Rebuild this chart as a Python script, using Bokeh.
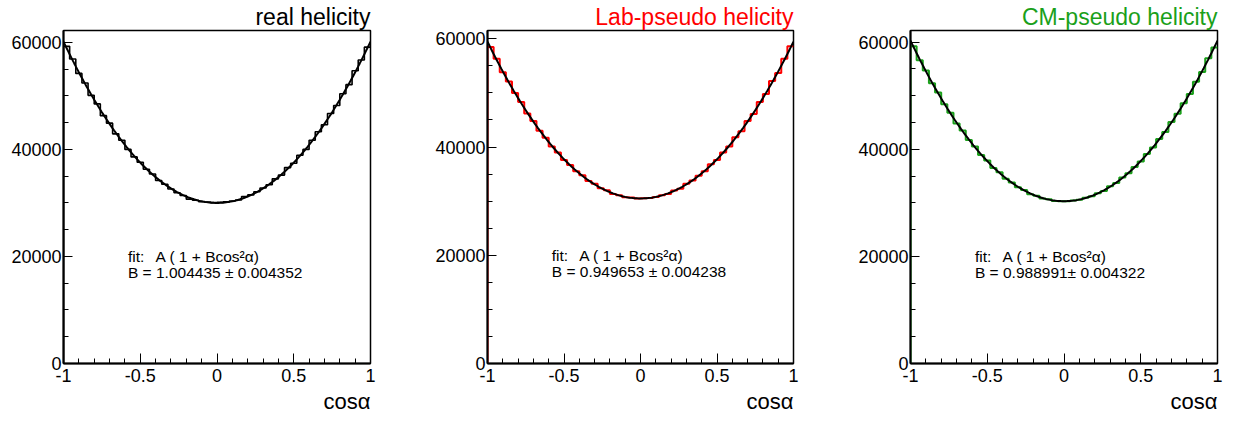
import numpy as np
from bokeh.plotting import figure
from bokeh.models import FixedTicker, Label, Range1d, Title
from bokeh.layouts import row
from bokeh.embed import file_html
from bokeh.resources import INLINE

# ---------------- data ----------------
titles = ["real helicity", "Lab-pseudo helicity", "CM-pseudo helicity"]
colors = ["#000000", "#ff0000", "#1aa01a"]
x_low, x_high = -1.0, 1.0

counts_real = [59250, 56900, 54200, 52400, 50100, 48500, 46300, 44900, 42900, 41700,
               40000, 38600, 37600, 36300, 35400, 34200, 33500, 32600, 31900, 31400,
               30700, 30500, 30250, 30150, 30050,
               30100, 30200, 30350, 30550, 31200, 31500, 32100, 32800, 33400, 34500,
               35200, 36600, 37400, 38900, 40000, 41700, 43300, 44600, 46700, 48200,
               50400, 52100, 54700, 56700, 59100]
counts_lab = [58500, 56300, 53800, 52100, 50000, 48300, 46200, 44800, 43000, 41700,
              40100, 39000, 37600, 36700, 35500, 34800, 33700, 33200, 32400, 32000,
              31300, 31100, 30700, 30650, 30500,
              30550, 30600, 30750, 31100, 31300, 31950, 32300, 33200, 33800, 34700,
              35500, 36800, 37600, 39000, 40100, 41800, 42900, 44800, 46100, 48300,
              49800, 52200, 53700, 56300, 58600]
counts_cm = [59200, 56600, 54700, 52300, 50600, 48400, 46800, 44800, 43500, 41700,
             40500, 38900, 37900, 36500, 35700, 34500, 33800, 32900, 32400, 31600,
             31300, 30800, 30650, 30350, 30300,
             30300, 30450, 30550, 30950, 31200, 31800, 32200, 33100, 33700, 34700,
             35500, 36700, 37700, 39100, 40300, 41900, 43200, 45100, 46600, 48600,
             50300, 52600, 54400, 57000, 59000]
all_counts = [counts_real, counts_lab, counts_cm]

fit_A = [30000, 30500, 30300]
fit_B = [1.004435, 0.949653, 0.988991]
fit_B_err = [0.004352, 0.004238, 0.004322]
fit_texts = ["B = 1.004435 ± 0.004352", "B = 0.949653 ± 0.004238", "B = 0.988991± 0.004322"]

y_ticks = [0, 20000, 40000, 60000]
y_tick_labels = ["0", "20000", "40000", "60000"]
y_minor = [5000, 10000, 15000, 25000, 30000, 35000, 45000, 50000, 55000]
x_ticks = [-1, -0.5, 0, 0.5, 1]
x_tick_labels = ["-1", "-0.5", "0", "0.5", "1"]
x_minor = [-0.9, -0.8, -0.7, -0.6, -0.4, -0.3, -0.2, -0.1, 0.1, 0.2, 0.3, 0.4, 0.6, 0.7, 0.8, 0.9]

FONT = "Liberation Sans"

widths = [428, 422, 385]
lefts = [63, 59, 60]
rights = [58, 57, 18]

figs = []
for i in range(3):
    counts = all_counts[i]
    n = len(counts)
    edges = np.linspace(x_low, x_high, n + 1)
    hx = [edges[0]]
    hy = [0]
    for k in range(n):
        hx += [edges[k], edges[k + 1]]
        hy += [counts[k], counts[k]]

    ymax = max(counts) * 1.05

    p = figure(width=widths[i], height=423, output_backend="svg", toolbar_location=None,
               x_range=Range1d(x_low, x_high), y_range=Range1d(0, ymax),
               min_border_left=lefts[i], min_border_right=rights[i],
               min_border_top=30, min_border_bottom=60)
    p.title = Title(text=titles[i], align="right", text_font=FONT, text_font_size="23px",
                    text_font_style="normal", text_color=colors[i], standoff=2)
    p.add_layout(Title(text="cosα", align="right", text_font=FONT, text_font_size="22px",
                       text_font_style="normal", text_color="black", standoff=5), "below")
    p.grid.visible = False
    p.outline_line_color = "black"
    p.outline_line_width = 1.5
    p.background_fill_color = "white"
    p.border_fill_color = "white"

    p.xaxis.ticker = FixedTicker(ticks=x_ticks, minor_ticks=x_minor)
    p.xaxis.major_label_overrides = {t: l for t, l in zip(x_ticks, x_tick_labels)}
    p.yaxis.ticker = FixedTicker(ticks=y_ticks, minor_ticks=y_minor)
    p.yaxis.major_label_overrides = {t: l for t, l in zip(y_ticks, y_tick_labels)}
    for ax in (p.xaxis, p.yaxis):
        ax.axis_line_color = "black"
        ax.axis_line_width = 2
        ax.major_tick_line_color = "black"
        ax.minor_tick_line_color = "black"
        ax.major_tick_line_width = 1
        ax.minor_tick_line_width = 1
        ax.major_tick_out = 0
        ax.minor_tick_out = 0
        ax.major_label_text_font = FONT
        ax.major_label_text_font_size = "18px"
        ax.major_label_text_color = "black"
    p.xaxis.major_tick_in = 10
    p.xaxis.minor_tick_in = 5
    p.yaxis.major_tick_in = 9
    p.yaxis.minor_tick_in = 5
    p.xaxis.major_label_standoff = 5
    p.yaxis.major_label_standoff = 2

    p.line(hx, hy, line_color=colors[i], line_width=2 if i else 1.6)

    xs = np.linspace(x_low, x_high, 201)
    ys = fit_A[i] * (1 + fit_B[i] * xs ** 2)
    p.line(xs, ys, line_color="black", line_width=2)

    p.add_layout(Label(x=-0.58, y=20000, text="fit:", text_align="left",
                       text_baseline="middle", text_font=FONT, text_font_size="15.5px",
                       text_color="black"))
    p.add_layout(Label(x=-0.40, y=20000, text="A ( 1 + Bcos²α)", text_align="left",
                       text_baseline="middle", text_font=FONT, text_font_size="15.5px",
                       text_color="black"))
    p.add_layout(Label(x=-0.58, y=17000, text=fit_texts[i], text_align="left",
                       text_baseline="middle", text_font=FONT, text_font_size="15.5px",
                       text_color="black"))
    figs.append(p)

layout = row(*figs, spacing=0)
open("out.html", "w").write(file_html(layout, INLINE))
